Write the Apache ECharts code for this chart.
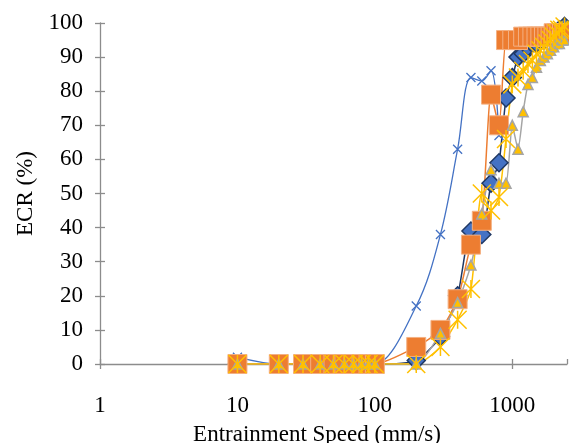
<!DOCTYPE html>
<html>
<head>
<meta charset="utf-8">
<script src="https://cdn.jsdelivr.net/npm/echarts@6/dist/echarts.min.js"></script>
<style>
  html, body { margin: 0; padding: 0; background: #fff; }
  #chart { width: 569px; height: 443px; }
</style>
</head>
<body>
<div id="chart"></div>
<script>
// speeds (mm/s) shared by every series
const speeds = [10, 20, 30, 40, 50, 60, 70, 80, 90, 100,
  200, 300, 400, 500, 600, 700, 800, 900, 1000,
  1100, 1200, 1300, 1400, 1500, 1600, 1700, 1800, 1900, 2000, 2100, 2200, 2300, 2400];

// ECR (%) per series, null = no point
const crossValues = [2, 0, 0, 0, 0, 0, 0, 0, 0, 0,
  17, 38, 63, 84, 83, 86, 67, null, null,
  null, null, null, null, null, null, null, null, null, null, null, null, null, null];
const diamondValues = [0, 0, 0, 0, 0, 0, 0, 0, 0, 0,
  1, 8, 20, 39, 38, 53, 59, 78, 84,
  90, 91, 93, 94, 94, 95, 95, 96, 96, 97, 97, 98, 98, 99];
const squareValues = [0, 0, 0, 0, 0, 0, 0, 0, 0, 0,
  5, 10, 19, 35, 42, 79, 70, 95, 95,
  95, 96, 96, 96, 96, 96, 96, 96, 96, 97, 97, 97, 97, 97];
const triangleValues = [0, 0, 0, 0, 0, 0, 0, 0, 0, 0,
  0, 9, 18, 29, 44, 57, 53, 53, 70,
  63, 74, 82, 84, 87, 89, 90, 91, 92, 93, 94, 94, 95, 95];
const starValues = [0, 0, 0, 0, 0, 0, 0, 0, 0, 0,
  0, 5, 13, 22, 50, 45, 49, 66, 82,
  84, 86, 88, 89, 91, 92, 93, 94, 95, 96, 97, 98, 98, 99];

const xTickLabels = ['1', '10', '100', '1000'];

const font = 'Liberation Serif, Times New Roman, serif';
const axisGray = '#8c8c8c';

function pairs(values) {
  return speeds.map((s, i) => [s, values[i]]).filter((p) => p[1] !== null);
}

const myChart = echarts.init(document.getElementById('chart'));

const xAxisBase = {
  type: 'log',
  logBase: 10,
  min: 1,
  max: 2500,
  position: 'bottom',
  splitLine: { show: false },
  minorTick: { show: false },
};

const yAxisBase = {
  type: 'value',
  min: 0,
  max: 100,
  interval: 10,
  position: 'left',
  splitLine: { show: false },
};

const option = {
  backgroundColor: '#fff',
  animation: false,
  grid: { left: 100, right: 2, top: 23, bottom: 79, containLabel: false, outerBoundsMode: 'none' },
  xAxis: [
    {
      ...xAxisBase,
      name: 'Entrainment Speed (mm/s)',
      nameLocation: 'middle',
      nameGap: 59,
      nameTextStyle: { fontFamily: font, fontSize: 23, color: '#000', padding: [0, 33, 0, 0] },
      axisLine: { show: true, lineStyle: { color: axisGray, width: 1.3 } },
      axisTick: { show: true, length: 5, lineStyle: { color: axisGray, width: 1.3 } },
      axisLabel: {
        fontFamily: font,
        fontSize: 23,
        color: '#000',
        margin: 30,
        showMaxLabel: false,
        formatter(value) {
          const s = String(Math.round(value));
          return xTickLabels.indexOf(s) >= 0 ? s : '';
        },
      },
    },
    {
      ...xAxisBase,
      axisLine: { show: false },
      axisTick: { show: true, inside: true, length: 5, lineStyle: { color: axisGray, width: 1.3 } },
      axisLabel: { show: false },
    },
  ],
  yAxis: [
    {
      ...yAxisBase,
      name: 'ECR (%)',
      nameLocation: 'middle',
      nameGap: 62,
      nameTextStyle: { fontFamily: font, fontSize: 23, color: '#000' },
      axisLine: { show: true, lineStyle: { color: axisGray, width: 1.3 } },
      axisTick: { show: true, length: 5, lineStyle: { color: axisGray, width: 1.3 } },
      axisLabel: { fontFamily: font, fontSize: 23, color: '#000', margin: 17 },
    },
    {
      ...yAxisBase,
      axisLine: { show: false },
      axisTick: { show: true, inside: true, length: 5, lineStyle: { color: axisGray, width: 1.3 } },
      axisLabel: { show: false },
    },
  ],
  series: [
    {
      name: 'cross',
      type: 'line',
      smooth: 0.35,
      data: pairs(crossValues),
      symbol: 'path://M0 0L10 10M10 0L0 10',
      symbolSize: 9,
      itemStyle: { color: '#4472C4', borderColor: '#4472C4', borderWidth: 1.3 },
      lineStyle: { color: '#4472C4', width: 1.3 },
    },
    {
      name: 'diamond',
      type: 'line',
      smooth: 0.2,
      data: pairs(diamondValues),
      symbol: 'diamond',
      symbolSize: 18,
      itemStyle: { color: '#4472C4', borderColor: '#1F3864', borderWidth: 1.5 },
      lineStyle: { color: '#1F3864', width: 1.5 },
    },
    {
      name: 'square',
      type: 'line',
      smooth: 0.2,
      data: pairs(squareValues),
      symbol: 'rect',
      symbolSize: 19,
      itemStyle: { color: '#ED7D31', borderColor: '#F4B183', borderWidth: 1 },
      lineStyle: { color: '#ED7D31', width: 1.5 },
    },
    {
      name: 'triangle',
      type: 'line',
      smooth: 0.2,
      data: pairs(triangleValues),
      symbol: 'triangle',
      symbolSize: 10,
      itemStyle: { color: '#FFC000', borderColor: '#A5A5A5', borderWidth: 1.5 },
      lineStyle: { color: '#A5A5A5', width: 1.5 },
    },
    {
      name: 'star',
      type: 'line',
      smooth: 0.2,
      data: pairs(starValues),
      symbol: 'path://M0 0L20 20M20 0L0 20M10 0L10 20',
      symbolSize: 18,
      itemStyle: { color: '#FFC000', borderColor: '#FFC000', borderWidth: 1.5 },
      lineStyle: { color: '#FFC000', width: 1.5 },
    },
  ],
};

myChart.setOption(option);
</script>
</body>
</html>
